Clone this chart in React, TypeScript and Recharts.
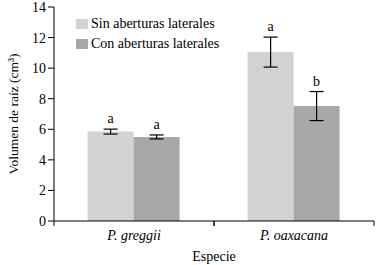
import { Bar, BarChart, ErrorBar, LabelList, Legend, XAxis, YAxis } from 'recharts';

const CATEGORIES = ['P. greggii', 'P. oaxacana'];
const SIN_VALUES = [5.85, 11.05];
const SIN_ERRORS = [0.16, 0.98];
const SIN_LETTERS = ['a', 'a'];
const CON_VALUES = [5.5, 7.52];
const CON_ERRORS = [0.13, 0.95];
const CON_LETTERS = ['a', 'b'];
const Y_TICKS = [0, 2, 4, 6, 8, 10, 12, 14];

const SIN_NAME = 'Sin aberturas laterales';
const CON_NAME = 'Con aberturas laterales';
const LIGHT = '#d1d2d4';
const DARK = '#a7a8aa';
const FONT = 'Liberation Serif';

const data = CATEGORIES.map((name, i) => ({
  name,
  sin: SIN_VALUES[i],
  sinErr: SIN_ERRORS[i],
  con: CON_VALUES[i],
  conErr: CON_ERRORS[i],
}));

function CategoryTick(props: any) {
  const { x, y, payload } = props;
  const half = payload.offset ?? 0;
  const axisY = y - 9;
  return (
    <g>
      <line x1={x - half} x2={x - half} y1={axisY} y2={axisY + 5} stroke="#000" />
      <line x1={x + half} x2={x + half} y1={axisY} y2={axisY + 5} stroke="#000" />
      <text x={x} y={y} dy="0.71em" textAnchor="middle" fontStyle="italic" fontSize={14} fill="#000" style={{ fontFamily: FONT }}>
        {payload.value}
      </text>
    </g>
  );
}

function YLabel() {
  return (
    <text
      transform="translate(13,114) rotate(-90)"
      textAnchor="middle"
      dominantBaseline="central"
      fontSize={13.5}
      fill="#000"
      style={{ fontFamily: FONT }}
    >
      Volumen de raíz (cm³)
    </text>
  );
}

function letterLabel(letters: string[], errors: number[]) {
  return (props: any) => {
    const { x, y, width, height, value, index } = props;
    const perUnit = value ? height / value : 0;
    const top = y - errors[index] * perUnit;
    return (
      <text x={x + width / 2} y={top - 6} textAnchor="middle" fontSize={14} fill="#000" style={{ fontFamily: FONT }}>
        {letters[index]}
      </text>
    );
  };
}

function LegendBox() {
  const items = [
    { name: SIN_NAME, color: LIGHT },
    { name: CON_NAME, color: DARK },
  ];
  return (
    <div style={{ fontFamily: FONT, fontSize: 14, lineHeight: '20px', color: '#000' }}>
      {items.map((it) => (
        <div key={it.name} style={{ display: 'flex', alignItems: 'center', whiteSpace: 'nowrap' }}>
          <span style={{ width: 12, height: 10, background: it.color, marginRight: 3, display: 'inline-block' }} />
          {it.name}
        </div>
      ))}
    </div>
  );
}

export default function App() {
  return (
    <div style={{ width: 376, height: 265, background: '#fff', fontFamily: FONT }}>
      <style>{'body{margin:0}'}</style>
      <BarChart
        width={376}
        height={265}
        data={data}
        margin={{ top: 7, right: 2, left: 0, bottom: 0 }}
        barCategoryGap="21%"
        barGap={0}
        style={{ fontFamily: FONT }}
      >
        <XAxis
          dataKey="name"
          height={44}
          axisLine={{ stroke: '#000' }}
          tickLine={false}
          tickSize={5}
          tickMargin={4}
          tick={<CategoryTick />}
          interval={0}
          label={{ value: 'Especie', position: 'insideBottom', offset: 4, fill: '#000', fontSize: 14, style: { fontFamily: FONT } }}
        />
        <XAxis xAxisId="top" dataKey="name" orientation="top" height={0} tick={false} tickLine={false} axisLine={{ stroke: '#000' }} />
        <YAxis
          width={54}
          domain={[0, 14]}
          ticks={Y_TICKS}
          interval={0}
          axisLine={{ stroke: '#000' }}
          tickLine={{ stroke: '#000' }}
          tickSize={6}
          tickMargin={2}
          tick={{ fill: '#000', fontSize: 14, style: { fontFamily: FONT } }}
          label={<YLabel />}
        />
        <YAxis yAxisId="right" orientation="right" width={0} domain={[0, 14]} tick={false} tickLine={false} axisLine={{ stroke: '#000' }} />
        <Legend
          layout="vertical"
          align="center"
          verticalAlign="middle"
          content={<LegendBox />}
          wrapperStyle={{ top: 14, left: 76, width: 'auto' }}
        />
        <Bar dataKey="sin" name={SIN_NAME} fill={LIGHT} isAnimationActive={false}>
          <ErrorBar dataKey="sinErr" width={7} stroke="#000" strokeWidth={1.2} />
          <LabelList dataKey="sin" content={letterLabel(SIN_LETTERS, SIN_ERRORS)} />
        </Bar>
        <Bar dataKey="con" name={CON_NAME} fill={DARK} isAnimationActive={false}>
          <ErrorBar dataKey="conErr" width={7} stroke="#000" strokeWidth={1.2} />
          <LabelList dataKey="con" content={letterLabel(CON_LETTERS, CON_ERRORS)} />
        </Bar>
      </BarChart>
    </div>
  );
}
